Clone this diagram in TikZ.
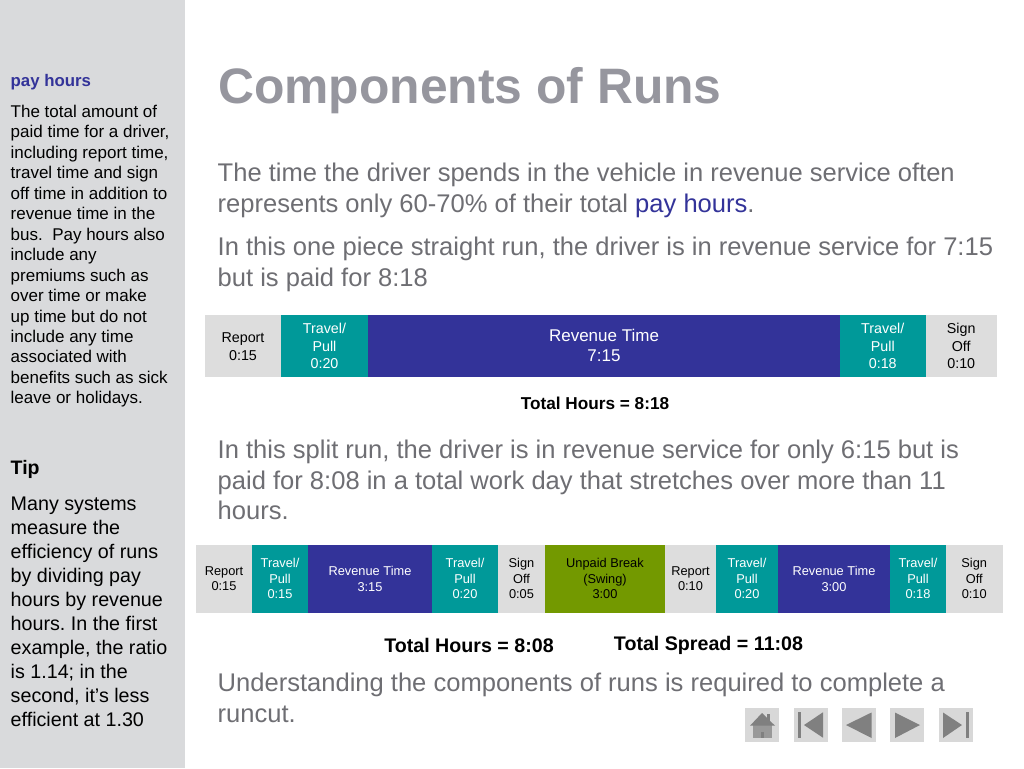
\documentclass[tikz,border=0pt]{standalone}
\usepackage{fontspec}
\setmainfont{Liberation Sans}
\definecolor{side}{HTML}{D9DADC}
\definecolor{cellgray}{HTML}{DDDDDD}
\definecolor{teal2}{HTML}{009999}
\definecolor{navy2}{HTML}{333399}
\definecolor{olive2}{HTML}{739900}
\definecolor{titlegray}{HTML}{96969E}
\definecolor{bodygray}{HTML}{6E6E73}
\definecolor{btn}{HTML}{D8D8D8}
\definecolor{btnicon}{HTML}{808080}
\frenchspacing
\tikzset{
  txt/.style={inner sep=0pt,anchor=north west,align=left},
  side16/.style={txt,font=\fontsize{17}{20.45}\selectfont,text=black},
  side18/.style={txt,font=\fontsize{19.7}{24}\selectfont,text=black},
  body/.style={txt,font=\fontsize{25.55}{30.8}\selectfont,text=bodygray},
  total/.style={inner sep=0pt,font=\bfseries\fontsize{17.2}{20}\selectfont,text=black},
  total2/.style={inner sep=0pt,font=\bfseries\fontsize{19.65}{23}\selectfont,text=black},
  label1/.style={inner sep=0pt,align=center,font=\fontsize{14.3}{17.5}\selectfont},
  label2/.style={inner sep=0pt,align=center,font=\fontsize{12.8}{15.4}\selectfont},
  labelbig/.style={inner sep=0pt,align=center,font=\fontsize{17}{20}\selectfont},
  btnbox/.style={fill=btn,draw=none},
  icon/.style={fill=btnicon,draw=none},
}
\newcommand{\cellbox}[7]{%
  \fill[#6] (#2,#4) rectangle (#3,#5);
  \node[#7] (#1) at ({(#2+#3)/2},{(#4+#5)/2}) }
\begin{document}
\begin{tikzpicture}[x=1pt,y=-1pt]
\useasboundingbox (0,0) rectangle (1024,768);
\fill[white] (0,0) rectangle (1024,768);
\fill[side] (0,0) rectangle (185,768);

\node[txt,font=\bfseries\fontsize{16.8}{20}\selectfont,text=navy2] (sidehead) at (10.5,74) {pay hours};
\node[side16] (sidetext) at (10.5,105) {The total amount of\\paid time for a driver,\\including report time,\\travel time and sign\\off time in addition to\\revenue time in the\\bus.\ \ Pay hours also\\include any\\premiums such as\\over time or make\\up time but do not\\include any time\\associated with\\benefits such as sick\\leave or holidays.};
\node[txt,font=\bfseries\fontsize{19.5}{22}\selectfont,text=black] (tiphead) at (10.5,460) {Tip};
\node[side18] (tiptext) at (10.5,497) {Many systems\\measure the\\efficiency of runs\\by dividing pay\\hours by revenue\\hours. In the first\\example, the ratio\\is 1.14; in the\\second, it’s less\\efficient at 1.30};

\node[txt,font=\bfseries\fontsize{49.8}{58}\selectfont,text=titlegray] (title) at (218,67) {Components of Runs};
\node[body] (p1) at (217.5,162.5) {The time the driver spends in the vehicle in revenue service often\\represents only 60-70\% of their total \textcolor{navy2}{pay hours}.};
\node[body] (p2) at (217.5,236.5) {In this one piece straight run, the driver is in revenue service for 7:15\\but is paid for 8:18};
\node[body] (p3) at (217.5,439.5) {In this split run, the driver is in revenue service for only 6:15 but is\\paid for 8:08 in a total work day that stretches over more than 11\\hours.};
\node[body] (p4) at (217.5,672.5) {Understanding the components of runs is required to complete a\\runcut.};

% first bar
\cellbox{a1}{205}{281}{315}{376.5}{cellgray}{label1,text=black,yshift=-1pt}{Report\\0:15};
\cellbox{a2}{281}{368}{315}{376.5}{teal2}{label1,text=white,yshift=-0.5pt}{Travel/\\Pull\\0:20};
\cellbox{a3}{368}{840}{315}{376.5}{navy2}{labelbig,text=white}{Revenue Time\\7:15};
\cellbox{a4}{840}{925.5}{315}{376.5}{teal2}{label1,text=white,yshift=-0.5pt}{Travel/\\Pull\\0:18};
\cellbox{a5}{925.5}{997}{315}{376.5}{cellgray}{label1,text=black,yshift=-0.5pt}{Sign\\Off\\0:10};
\node[total] (t1) at (595,403.5) {Total Hours = 8:18};

% second bar
\cellbox{b1}{196}{252}{545}{612.5}{cellgray}{label2,text=black}{Report\\0:15};
\cellbox{b2}{252}{308}{545}{612.5}{teal2}{label2,text=white}{Travel/\\Pull\\0:15};
\cellbox{b3}{308}{432}{545}{612.5}{navy2}{label2,text=white}{Revenue Time\\3:15};
\cellbox{b4}{432}{498}{545}{612.5}{teal2}{label2,text=white}{Travel/\\Pull\\0:20};
\cellbox{b5}{498}{545}{545}{612.5}{cellgray}{label2,text=black}{Sign\\Off\\0:05};
\cellbox{b6}{545}{665}{545}{612.5}{olive2}{label2,text=black}{Unpaid Break\\(Swing)\\3:00};
\cellbox{b7}{665}{716}{545}{612.5}{cellgray}{label2,text=black}{Report\\0:10};
\cellbox{b8}{716}{778}{545}{612.5}{teal2}{label2,text=white}{Travel/\\Pull\\0:20};
\cellbox{b9}{778}{890}{545}{612.5}{navy2}{label2,text=white}{Revenue Time\\3:00};
\cellbox{b10}{890}{946}{545}{612.5}{teal2}{label2,text=white}{Travel/\\Pull\\0:18};
\cellbox{b11}{946}{1002.5}{545}{612.5}{cellgray}{label2,text=black}{Sign\\Off\\0:10};
\node[total2] (t2) at (469,645.5) {Total Hours = 8:08};
\node[total2] (t3) at (708.5,645) {Total Spread = 11:08};

% navigation buttons
\fill[btnbox] (745,708) rectangle (779,742);
\fill[icon] (767,714) rectangle (770,722);
\fill[btnicon!72!btn] (752.7,725) rectangle (772,737.7);
\fill[icon] (750,725.7) -- (762,713) -- (775,725.7) -- cycle;
\fill[icon] (760.7,731.7) rectangle (763.5,737.7);

\fill[btnbox] (794,708) rectangle (828,742);
\fill[icon] (798,712) rectangle (801,738);
\fill[icon] (804,725) -- (823,712.3) -- (823,737.7) -- cycle;

\fill[btnbox] (842,708) rectangle (876,742);
\fill[icon] (846,725) -- (871.5,712.5) -- (871.5,738) -- cycle;

\fill[btnbox] (890,708) rectangle (924,742);
\fill[icon] (895,712.5) -- (920,725) -- (895,738) -- cycle;

\fill[btnbox] (939,708) rectangle (973,742);
\fill[icon] (943,712.5) -- (962,725) -- (943,738) -- cycle;
\fill[icon] (965.5,712) rectangle (968.5,738);
\end{tikzpicture}
\end{document}
